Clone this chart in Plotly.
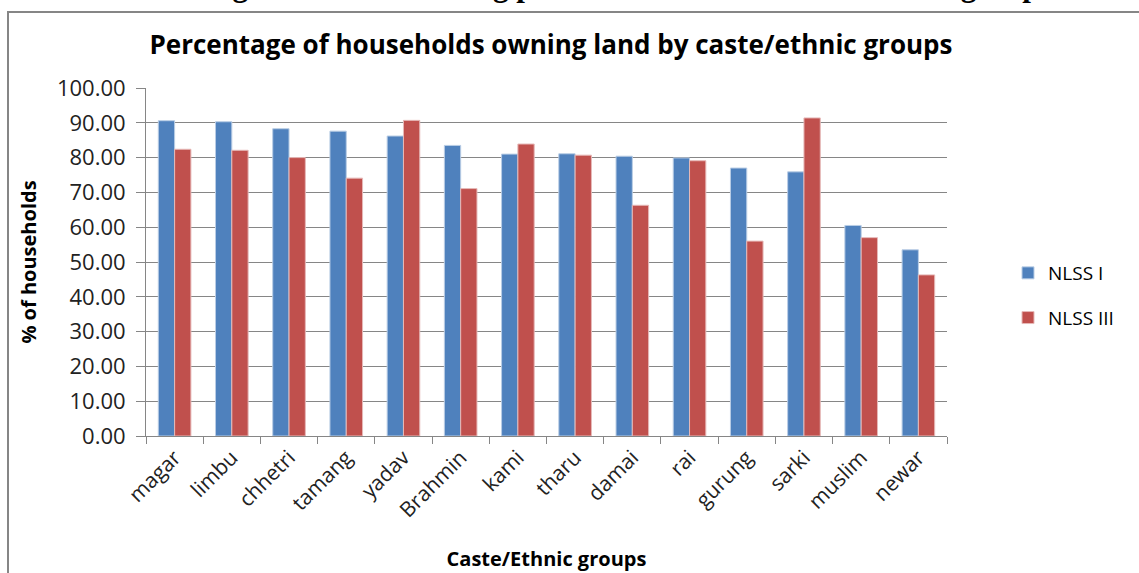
import plotly.graph_objects as go

# Land ownership by caste/ethnic group, two survey rounds
groups = ["magar", "limbu", "chhetri", "tamang", "yadav", "Brahmin", "kami",
          "tharu", "damai", "rai", "gurung", "sarki", "muslim", "newar"]
nlss_1 = [90.6, 90.3, 88.3, 87.6, 86.2, 83.5, 81.0, 81.1, 80.4, 79.9, 77.0, 75.9, 60.5, 53.5]
nlss_3 = [82.4, 82.1, 80.0, 74.1, 90.7, 71.1, 83.9, 80.7, 66.3, 79.1, 56.0, 91.4, 57.0, 46.3]

W, H = 1139, 573
L, R, T, B = 146, 947, 88, 436  # plot-area pixel box

def px_x(p):
    return (p - L) / (R - L)

def px_y(p):
    return (B - p) / (B - T)

GRID = "#868686"
FONT = "'Open Sans', Lato, sans-serif"

fig = go.Figure()
fig.add_trace(go.Bar(x=groups, y=nlss_1, name="NLSS I", legendgroup="a",
                     marker=dict(color="#4F81BD", line=dict(color="#B9CDE5", width=1))))
fig.add_trace(go.Bar(x=groups, y=nlss_3, name="NLSS III", legendgroup="b",
                     marker=dict(color="#C0504D", line=dict(color="#E6B9B8", width=1))))

fig.update_layout(
    width=W, height=H,
    margin=dict(l=L, r=W - R, t=T, b=H - B, pad=0, autoexpand=False),
    paper_bgcolor="white", plot_bgcolor="white",
    barmode="group", bargap=0.43, bargroupgap=0,
    font=dict(family=FONT, color="#222222"),
    title=dict(text="<b>Percentage of households owning land by caste/ethnic groups</b>",
               x=px_x(551), xref="paper", xanchor="center",
               y=1 - 45 / H, yanchor="middle",
               font=dict(size=26, color="black", family=FONT)),
    legend=dict(x=px_x(1008), y=px_y(254), xanchor="left", yanchor="top",
                font=dict(size=19, color="black"), tracegroupgap=17,
                itemwidth=30, bgcolor="rgba(0,0,0,0)"),
    showlegend=True,
)

fig.update_yaxes(range=[0, 100], dtick=10, tickformat=".2f",
                 showgrid=True, gridcolor=GRID, gridwidth=1,
                 showline=True, linecolor=GRID, linewidth=1,
                 ticks="outside", ticklen=9, tickcolor=GRID,
                 ticklabelstandoff=6,
                 tickfont=dict(size=22, color="#222222"),
                 zeroline=False, automargin=False,
                 title=dict(text="<b>% of households</b>", standoff=14,
                            font=dict(size=20, color="black")))
fig.update_xaxes(showline=True, linecolor=GRID, linewidth=1,
                 ticks="outside", tickson="boundaries", ticklen=7, tickcolor=GRID,
                 tickangle=-45, tickfont=dict(size=21, color="#222222"),
                 automargin=False,
                 title=dict(text="<b>Caste/Ethnic groups</b>", standoff=30,
                            font=dict(size=20, color="black")))

# outer chart frame
fig.add_shape(type="rect", xref="paper", yref="paper",
              x0=px_x(8), x1=px_x(1160), y0=px_y(600), y1=px_y(12),
              line=dict(color=GRID, width=2), fillcolor="rgba(0,0,0,0)", layer="below")

# document caption above the frame
fig.add_annotation(text="<b>Figure 6: Land owning patterns of different caste/ ethnic groups</b>",
                   xref="paper", yref="paper", x=px_x(628), y=px_y(5),
                   xanchor="center", yanchor="bottom", showarrow=False,
                   font=dict(family="'Liberation Serif', 'Times New Roman', serif",
                             size=31, color="black"))

fig.write_html("out.html")
